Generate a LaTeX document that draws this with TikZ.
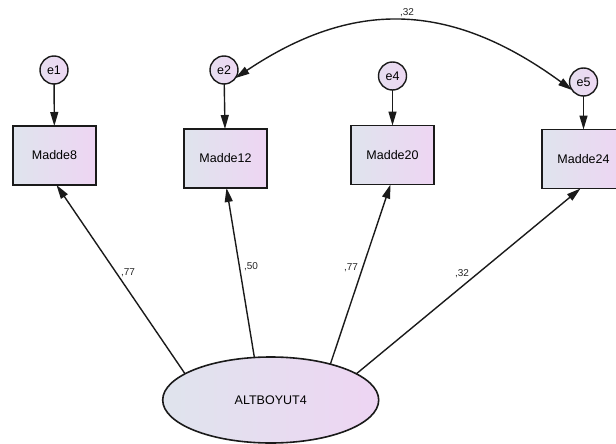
\documentclass[tikz,border=0pt]{standalone}
\usepackage{fontspec}
\setmainfont{Liberation Sans}
\usetikzlibrary{arrows.meta,shapes.geometric}
\definecolor{shL}{HTML}{DFE4ED}
\definecolor{shR}{HTML}{EED5F3}
\definecolor{ciL}{HTML}{E6DEEF}
\definecolor{ciR}{HTML}{EDD8F3}
\definecolor{lnC}{HTML}{1A1A1A}
\tikzset{
  obs/.style={draw=lnC, line width=1.6pt, left color=shL, right color=shR, minimum width=83pt, minimum height=59pt, inner sep=0pt, outer sep=0pt, font=\fontsize{12.5}{14}\selectfont},
  err/.style={circle, draw=lnC, line width=1.4pt, left color=ciL, right color=ciR, minimum size=28pt, inner sep=0pt, outer sep=0pt, font=\fontsize{12.5}{14}\selectfont},
  lat/.style={ellipse, draw=lnC, line width=1.6pt, left color=shL, right color=shR, minimum width=216pt, minimum height=86pt, inner sep=0pt, outer sep=0pt, font=\fontsize{12.5}{14}\selectfont},
  lbl/.style={inner sep=0pt, font=\fontsize{10}{11}\selectfont, text=black!85},
  arr/.style={draw=lnC, line width=1.4pt, -{Triangle[length=14pt,width=8pt]}},
  darr/.style={draw=lnC, line width=1.4pt, {Triangle[length=14pt,width=8pt]}-{Triangle[length=14pt,width=8pt]}}
}
\begin{document}
\begin{tikzpicture}[x=1pt,y=-1pt]
\useasboundingbox (0,0) rectangle (616,444);
\node[obs] (m8) at (54.5,155.5) {Madde8};
\node[obs] (m12) at (225.5,158.5) {Madde12};
\node[obs] (m20) at (392.5,155) {Madde20};
\node[obs] (m24) at (583.5,159) {Madde24};
\node[err] (e1) at (54,70) {e1};
\node[err] (e2) at (224,70) {e2};
\node[err] (e4) at (392.5,76) {e4};
\node[err] (e5) at (583.5,82) {e5};
\node[lat] (lv) at (270.7,400) {ALTBOYUT4};
\draw[arr] (e1) -- (m8);
\draw[arr] (e2) -- (m12);
\draw[arr] (e4) -- (m20);
\draw[arr] (e5) -- (m24);
\draw[arr] (lv.163) -- ([xshift=2pt]m8.south);
\draw[arr] (lv.111) -- ([xshift=1pt]m12.south);
\draw[arr] (lv.31) -- ([xshift=-2pt]m20.south);
\draw[arr] (lv.17) -- ([xshift=-3pt]m24.south);
\coordinate (c1) at (352,0);
\coordinate (c2) at (449,0);
\draw[darr] (e2.-35) .. controls (c1) and (c2) .. (e5.215);
\node[lbl] (l8) at (128,273) {,77};
\node[lbl] (l12) at (251,267) {,50};
\node[lbl] (l20) at (351,268) {,77};
\node[lbl] (l24) at (462,274) {,32};
\node[lbl] (lc) at (407,13) {,32};
\end{tikzpicture}
\end{document}
